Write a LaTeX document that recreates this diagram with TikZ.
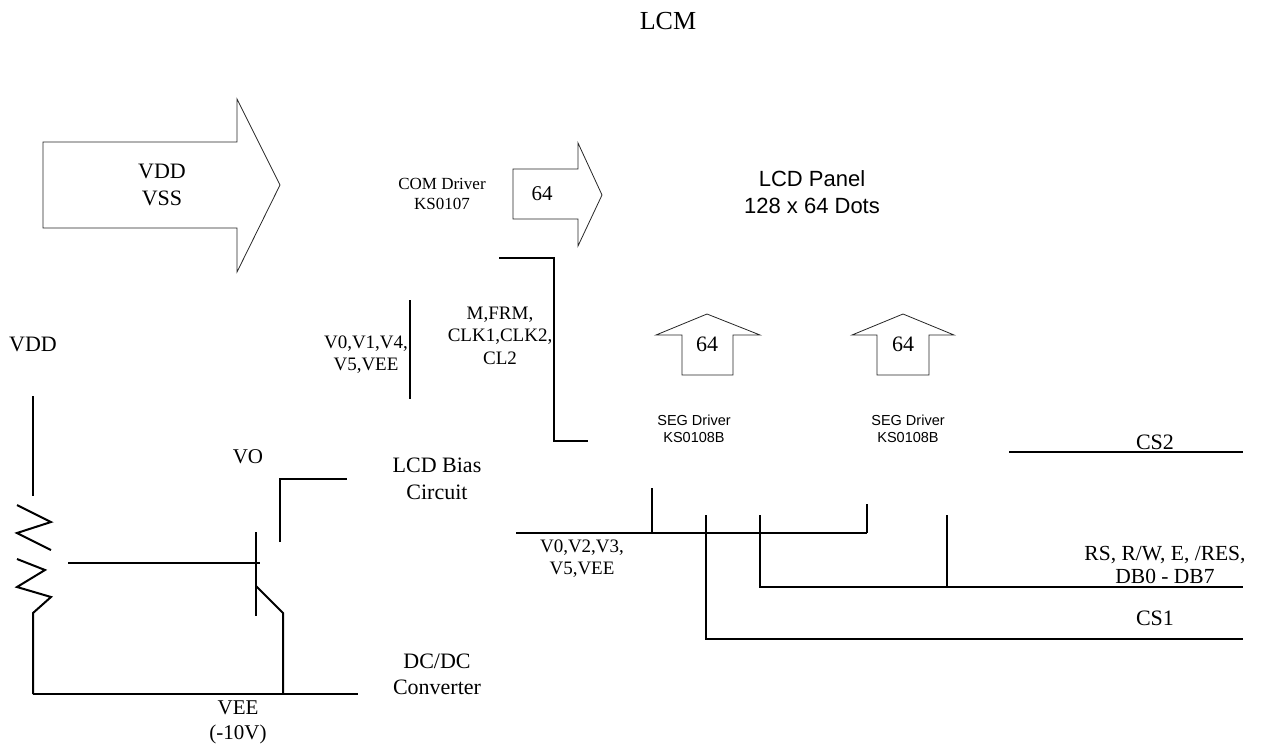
\documentclass[tikz,border=0pt]{standalone}
\usepackage{fontspec}
\setmainfont{Liberation Serif}
\setsansfont{Liberation Sans}
\tikzset{
  wire/.style={line width=2pt, line join=miter},
  fatarrow/.style={line width=0.8pt, draw=black!85, line join=miter},
  lbl/.style={inner sep=0pt, align=center},
  fs/.style n args={2}{font=\fontsize{#1}{#2}\selectfont},
}
\begin{document}
\begin{tikzpicture}[x=1pt,y=-1pt]
\useasboundingbox (0,0) rectangle (1262,748);
% title
\node[lbl,fs={26}{30}] (title) at (668,21) {LCM};
% big VDD/VSS arrow
\draw[fatarrow] (43,142) -- (237,142) -- (237,99) -- (280,185) -- (237,272) -- (237,228) -- (43,228) -- cycle;
\node[lbl,fs={22}{27}] (vddvss) at (162,185) {VDD\\VSS};
% COM driver
\node[lbl,fs={17}{20}] (com) at (442,194) {COM Driver\\KS0107};
\draw[fatarrow] (513,169) -- (578,169) -- (578,143) -- (602,195) -- (578,246) -- (578,219) -- (513,219) -- cycle;
\node[lbl,fs={21}{25}] (com64) at (542,194) {64};
% LCD panel
\node[lbl,fs={22}{27},font=\sffamily\fontsize{22}{27}\selectfont] (panel) at (812,192) {LCD Panel\\128 x 64 Dots};
% SEG arrows
\draw[fatarrow] (707,314) -- (760,335) -- (733,335) -- (733,375) -- (682,375) -- (682,335) -- (656,335) -- cycle;
\node[lbl,fs={22}{26}] (seg64a) at (707,344) {64};
\draw[fatarrow] (903,314) -- (954,335) -- (929,335) -- (929,375) -- (877,375) -- (877,335) -- (852,335) -- cycle;
\node[lbl,fs={22}{26}] (seg64b) at (903,344) {64};
\node[lbl,font=\sffamily\fontsize{14.5}{17}\selectfont] (sega) at (694,428.5) {SEG Driver\\KS0108B};
\node[lbl,font=\sffamily\fontsize{14.5}{17}\selectfont] (segb) at (908,428.5) {SEG Driver\\KS0108B};
% left labels
\node[lbl,fs={22}{26}] (vddl) at (33,344) {VDD};
\node[lbl,fs={19}{22}] (vbias1) at (366,355) {V0,V1,V4,\\V5,VEE};
\node[lbl,fs={19}{22.5}] (mfrm) at (500,335.5) {M,FRM,\\CLK1,CLK2,\\CL2};
\node[lbl,fs={22}{27}] (bias) at (437,478.5) {LCD Bias\\Circuit};
\node[lbl,fs={22}{26}] (dcdc) at (437,674) {DC/DC\\Converter};
\node[lbl,fs={21}{25}] (vo) at (248,457) {VO};
\node[lbl,fs={21}{25}] (vee) at (238,722.5) {VEE\\(-10V)};
\node[lbl,fs={19}{22}] (vbias2) at (582,558.5) {V0,V2,V3,\\V5,VEE};
% right labels
\node[lbl,fs={22}{26}] (cs2) at (1155,442) {CS2};
\node[lbl,fs={21.5}{22.5}] (rs) at (1165,565) {RS, R/W, E, /RES,\\DB0 - DB7};
\node[lbl,fs={22}{26}] (cs1) at (1155,618) {CS1};
% coordinates
\coordinate (vt) at (33,396); \coordinate (vb) at (33,496);
\coordinate (gl) at (33,694); \coordinate (gr) at (358,694);
% potentiometer
\draw[wire] (vt) -- (vb);
\draw[wire] (17,505) -- (51,522) -- (17,533) -- (51,550);
\draw[wire] (17,559) -- (45,570) -- (17,587) -- (51,597) -- (33,613) -- (gl);
\draw[wire] (gl) -- (gr);
% transistor
\coordinate (wip) at (68,563); \coordinate (base) at (260,563);
\draw[wire] (wip) -- (base);
\draw[wire] (256,532) -- (256,616);
\draw[wire] (256,586) -- (283,613) -- (283,694);
\draw[wire] (280,542) -- (280,479) -- (347,479);
% bias bar
\draw[wire] (410,300) -- (410,399);
% bracket
\draw[wire] (499,258) -- (554,258) -- (554,441) -- (588,441);
% bus
\draw[wire] (516,533) -- (867,533);
\draw[wire] (652,488) -- (652,533);
\draw[wire] (867,504) -- (867,533);
\draw[wire] (706,515) -- (706,639) -- (1243,639);
\draw[wire] (760,515) -- (760,587) -- (1243,587);
\draw[wire] (947,515) -- (947,587);
\draw[wire] (1009,452) -- (1243,452);
\end{tikzpicture}
\end{document}
